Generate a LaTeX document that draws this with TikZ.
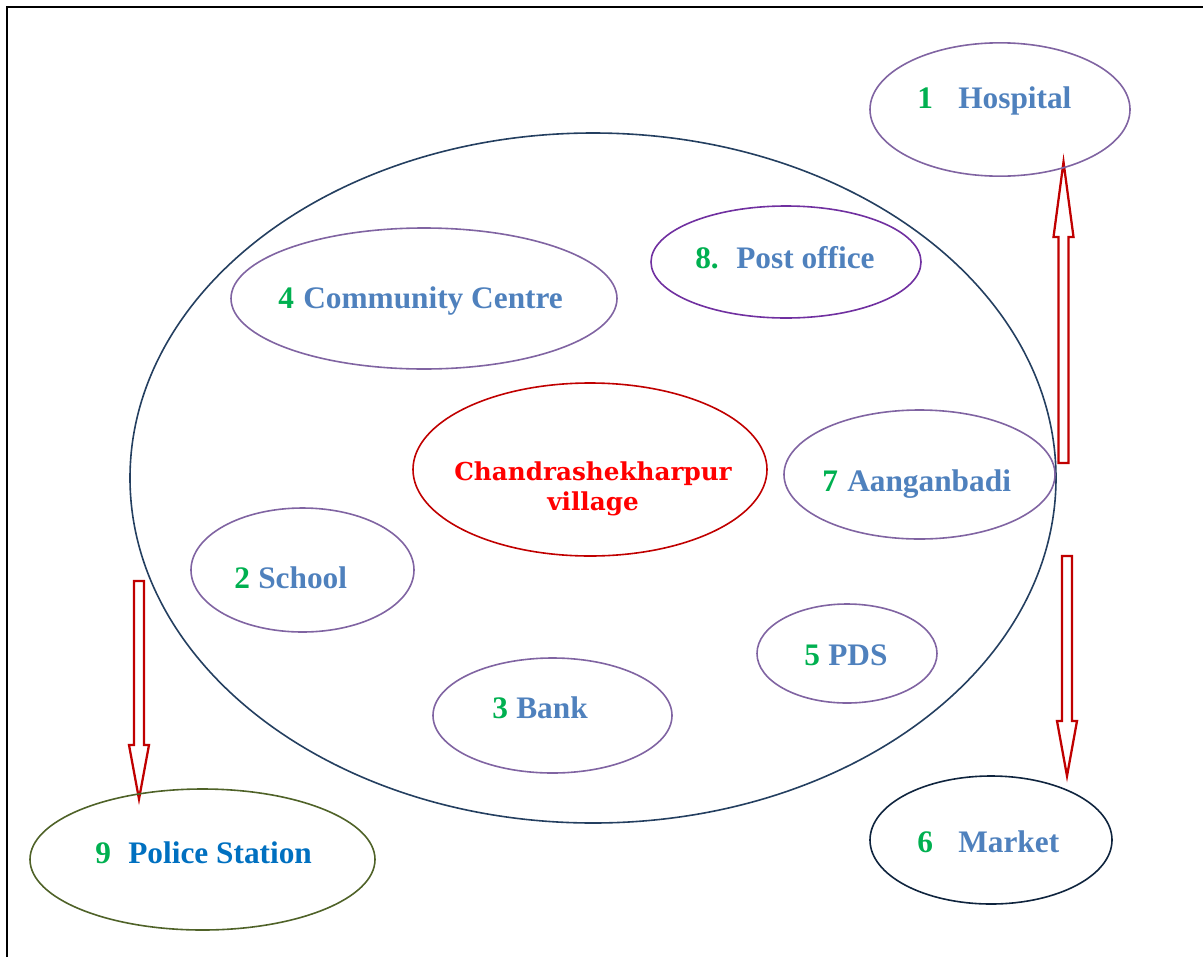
\documentclass[tikz,border=0pt]{standalone}
\usepackage{fontspec}
\setmainfont{Liberation Serif}
\newfontfamily\villagefont{DejaVu Serif}
\usetikzlibrary{shapes.geometric,calc}
\definecolor{numgreen}{HTML}{00B050}
\definecolor{wordblue}{HTML}{4F81BD}
\definecolor{policeblue}{HTML}{0070C0}
\definecolor{lilac}{HTML}{8064A2}
\definecolor{violet}{HTML}{7030A0}
\definecolor{darkred}{HTML}{C00000}
\definecolor{navy}{HTML}{243F60}
\definecolor{deepnavy}{HTML}{0F243E}
\definecolor{olive}{HTML}{4F6228}
\newcommand{\vblockarrow}[3]{%
  \draw[blockarrow] ($(#1)+(-5,0)$) -- ($(#2)+(-5,#3)$) -- ($(#2)+(-10,#3)$) -- (#2)
    -- ($(#2)+(10,#3)$) -- ($(#2)+(5,#3)$) -- ($(#1)+(5,0)$) -- cycle;}
\begin{document}
\begin{tikzpicture}[x=0.75pt,y=-0.75pt,
  oval/.style={draw, ellipse, inner sep=0pt, line width=1.2pt},
  num/.style={anchor=base west, inner sep=0pt, text=numgreen, font=\fontsize{23.5}{28}\selectfont\bfseries},
  word/.style={anchor=base west, inner sep=0pt, text=wordblue, font=\fontsize{23.5}{28}\selectfont\bfseries},
  vtext/.style={anchor=base, inner sep=0pt, text=red, font=\villagefont\fontsize{18.5}{22}\selectfont\bfseries},
  blockarrow/.style={draw=darkred, fill=white, line width=1.7pt, line join=miter}]
\useasboundingbox (0,0) rectangle (1203,957);
% frame
\draw[line width=1.7pt] (7,957) -- (7,7) -- (1203,7);
% big circle
\node[oval, draw=navy, minimum width=694.5pt, minimum height=517.5pt] (big) at (593,478) {};
% inner ovals
\node[oval, draw=violet, minimum width=202.5pt, minimum height=84pt] (post) at (786,262) {};
\node[oval, draw=lilac, minimum width=289.5pt, minimum height=105.75pt] (comm) at (424,298.5) {};
\node[oval, draw=darkred, minimum width=265.5pt, minimum height=129.75pt] (village) at (590,469.5) {};
\node[oval, draw=lilac, minimum width=203.25pt, minimum height=96.75pt] (aang) at (919.5,474.5) {};
\node[oval, draw=lilac, minimum width=167.25pt, minimum height=93pt] (school) at (302.5,570) {};
\node[oval, draw=lilac, minimum width=135pt, minimum height=74.25pt] (pds) at (847,653.5) {};
\node[oval, draw=lilac, minimum width=179.25pt, minimum height=86.25pt] (bank) at (552.5,715.5) {};
% arrows
\coordinate (hosptail) at (1063.5,463);
\coordinate (hosptip) at (1063.5,162);
\coordinate (markettail) at (1067,556);
\coordinate (markettip) at (1067,776);
\coordinate (policetail) at (139,581);
\coordinate (policetip) at (139,799);
\vblockarrow{hosptail}{hosptip}{75}
\vblockarrow{markettail}{markettip}{-55}
\vblockarrow{policetail}{policetip}{-54}
% outer ovals
\node[oval, draw=lilac, minimum width=195pt, minimum height=100pt] (hosp) at (1000,109.5) {};
\node[oval, draw=olive, minimum width=258.75pt, minimum height=105.75pt] (police) at (202.5,859.5) {};
\node[oval, draw=deepnavy, minimum width=181.5pt, minimum height=96pt] (market) at (991,840) {};
% labels
\node[num] (hospn) at (917,108) {1};
\node[word] (hospw) at (958,108) {Hospital};
\node[num] (postn) at (695,268) {8.};
\node[word] (postw) at (736,268) {Post office};
\node[num] (commn) at (278,308) {4};
\node[word] (commw) at (303,308) {Community Centre};
\node[num] (aangn) at (822,491) {7};
\node[word] (aangw) at (847,491) {Aanganbadi};
\node[num] (schooln) at (234,588) {2};
\node[word] (schoolw) at (258,588) {School};
\node[num] (pdsn) at (804,665) {5};
\node[word] (pdsw) at (828,665) {PDS};
\node[num] (bankn) at (492,718) {3};
\node[word] (bankw) at (516,718) {Bank};
\node[num] (policen) at (95,863) {9};
\node[word, text=policeblue] (policew) at (128,863) {Police Station};
\node[num] (marketn) at (917,852) {6};
\node[word] (marketw) at (958,852) {Market};
\node[vtext] (vline1) at (593,480) {Chandrashekharpur};
\node[vtext] (vline2) at (593,510) {village};
\end{tikzpicture}
\end{document}
